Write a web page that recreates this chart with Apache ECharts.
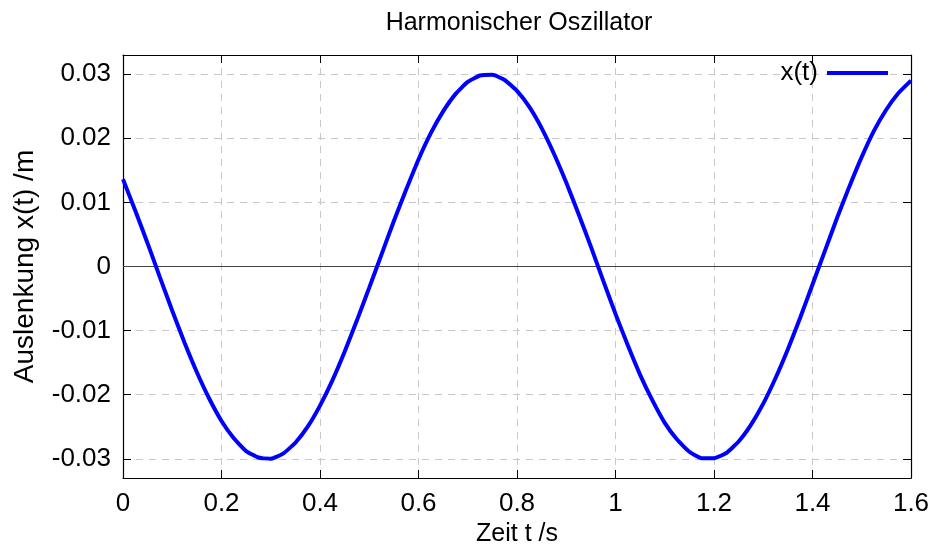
<!DOCTYPE html>
<html>
<head>
<meta charset="utf-8">
<script src="https://cdn.jsdelivr.net/npm/echarts@6/dist/echarts.min.js"></script>
<style>
  html, body { margin: 0; padding: 0; background: #fff; }
  #chart { width: 937px; height: 547px; }
</style>
</head>
<body>
<div id="chart"></div>
<script>
// Zeitpunkte und Auslenkung
const zeit = [0, 0.025, 0.05, 0.075, 0.1, 0.125, 0.15, 0.175, 0.2, 0.225, 0.25, 0.275, 0.3, 0.325,
  0.35, 0.375, 0.4, 0.425, 0.45, 0.475, 0.5, 0.525, 0.55, 0.575, 0.6, 0.625, 0.65, 0.675, 0.7,
  0.725, 0.75, 0.775, 0.8, 0.825, 0.85, 0.875, 0.9, 0.925, 0.95, 0.975, 1.0, 1.025, 1.05, 1.075,
  1.1, 1.125, 1.15, 1.175, 1.2, 1.225, 1.25, 1.275, 1.3, 1.325, 1.35, 1.375, 1.4, 1.425, 1.45,
  1.475, 1.5, 1.525, 1.55, 1.575, 1.6]
const auslenkung = [0.0136, 0.0087, 0.0036, -0.0017, -0.0069, -0.0119, -0.0165, -0.0206, -0.0241,
  -0.0268, -0.0288, -0.0298, -0.0300, -0.0292, -0.0275, -0.0250, -0.0217, -0.0178, -0.0133,
  -0.0084, -0.0033, 0.0019, 0.0071, 0.0120, 0.0167, 0.0208, 0.0242, 0.0269, 0.0288, 0.0298,
  0.0299, 0.0291, 0.0274, 0.0249, 0.0216, 0.0176, 0.0131, 0.0082, 0.0031, -0.0022, -0.0074,
  -0.0123, -0.0169, -0.0209, -0.0244, -0.0270, -0.0289, -0.0299, -0.0299, -0.0291, -0.0273,
  -0.0247, -0.0214, -0.0174, -0.0129, -0.0080, -0.0028, 0.0024, 0.0076, 0.0125, 0.0171,
  0.0212, 0.0245, 0.0271, 0.0290]
const yTicks = [-0.03, -0.02, -0.01, 0, 0.01, 0.02, 0.03]

const font = 'Liberation Sans, Arial, sans-serif'
const gridLine = { show: true, lineStyle: { color: '#c8c8c8', type: [7, 6], width: 1 } }
const frame = { show: true, onZero: false, lineStyle: { color: '#000', width: 1.2 } }
const tick = { show: true, inside: true, length: 8, lineStyle: { color: '#000', width: 1 } }

const chart = echarts.init(document.getElementById('chart'), null, { renderer: 'canvas' })

const option = {
  backgroundColor: '#fff',
  animation: false,
  textStyle: { fontFamily: font },
  title: {
    text: 'Harmonischer Oszillator',
    left: 514,
    textAlign: 'center',
    top: 6,
    textStyle: { fontFamily: font, fontSize: 25, fontWeight: 'normal', color: '#000' }
  },
  grid: { left: 123, right: 26, top: 55, bottom: 69, outerBoundsMode: 'none', containLabel: false },
  legend: {
    data: ['x(t)'],
    right: 44,
    top: 55,
    align: 'right',
    icon: 'rect',
    itemWidth: 61,
    itemHeight: 4,
    textStyle: { fontFamily: font, fontSize: 26, color: '#000', padding: [0, 4, 0, 0] }
  },
  xAxis: [
    {
      type: 'value',
      min: 0,
      max: 1.6,
      interval: 0.2,
      name: 'Zeit t /s',
      nameLocation: 'middle',
      nameGap: 44,
      nameTextStyle: { fontFamily: font, fontSize: 25, color: '#000' },
      axisLine: frame,
      axisTick: tick,
      splitLine: gridLine,
      axisLabel: {
        fontFamily: font, fontSize: 26, color: '#000', margin: 13,
        formatter: (v) => String(+v.toFixed(1))
      }
    },
    {
      type: 'value',
      position: 'top',
      min: 0,
      max: 1.6,
      interval: 0.2,
      axisLine: frame,
      axisTick: tick,
      splitLine: { show: false },
      axisLabel: { show: false }
    }
  ],
  yAxis: [
    {
      type: 'value',
      min: -0.033,
      max: 0.033,
      name: 'Auslenkung x(t) /m',
      nameLocation: 'middle',
      nameGap: 84,
      nameTextStyle: { fontFamily: font, fontSize: 28, color: '#000' },
      axisLine: frame,
      axisTick: Object.assign({}, tick, { customValues: yTicks }),
      splitLine: gridLine,
      axisLabel: {
        customValues: yTicks,
        fontFamily: font, fontSize: 26, color: '#000', margin: 12,
        formatter: (v) => String(+v.toFixed(2))
      }
    },
    {
      type: 'value',
      position: 'right',
      min: -0.033,
      max: 0.033,
      axisLine: frame,
      axisTick: Object.assign({}, tick, { customValues: yTicks }),
      splitLine: { show: false },
      axisLabel: { show: false, customValues: yTicks }
    }
  ],
  series: [
    {
      name: 'x(t)',
      type: 'line',
      xAxisIndex: 0,
      yAxisIndex: 0,
      data: zeit.map((t, i) => [t, auslenkung[i]]),
      smooth: 0.15,
      symbol: 'none',
      color: '#0000ff',
      lineStyle: { color: '#0000ff', width: 4 },
      markLine: {
        silent: true,
        symbol: 'none',
        label: { show: false },
        lineStyle: { color: '#444', type: 'solid', width: 1.2 },
        data: [{ yAxis: 0 }]
      },
      z: 5
    }
  ]
}

chart.setOption(option)
</script>
</body>
</html>
